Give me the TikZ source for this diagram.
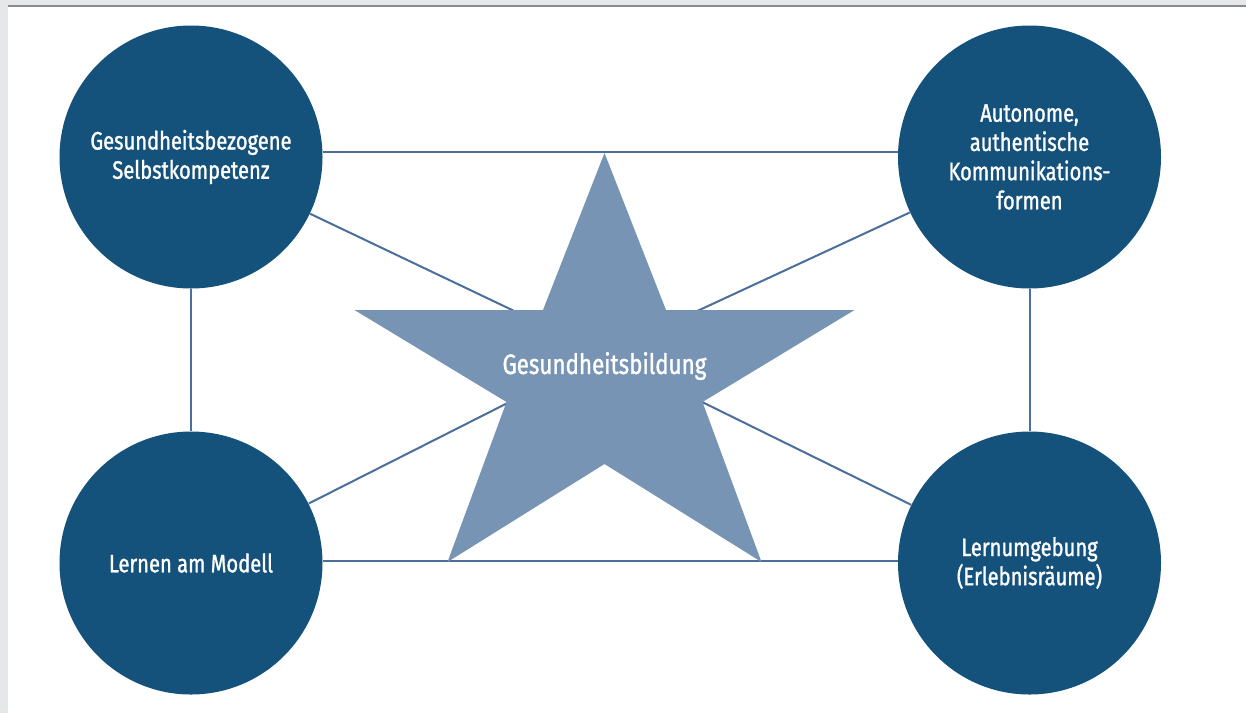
\documentclass[tikz,border=0pt]{standalone}
\usepackage{fontspec}
\setmainfont{Fira Sans}[FakeStretch=0.8, FakeBold=1.2]
\usetikzlibrary{
  calc,
  positioning,
}
\definecolor{topicblue}{HTML}{14527C}
\definecolor{starblue}{HTML}{7794B4}
\definecolor{linkblue}{HTML}{4A6F9B}
\definecolor{framegray}{HTML}{E6E7E9}
\definecolor{rulegray}{HTML}{8A8A8A}
\tikzset{
  topic/.style={circle, fill=topicblue, text=white, minimum size=131.5pt,
    inner sep=0pt, align=center, font=\fontsize{12.6}{14.6}\selectfont},
  link/.style={draw=linkblue, line width=1pt},
  startext/.style={text=white, inner sep=0pt, font=\fontsize{14}{16}\selectfont},
}

\begin{document}
\begin{tikzpicture}[x=0.5pt, y=-0.5pt]
      \useasboundingbox (0,0) rectangle (1246,713);
      % frame
      \fill[framegray] (0,0) rectangle (1246,713);
      \fill[white] (8,7) rectangle (1246,713);
      \draw[rulegray, line width=1pt] (8,6) -- (1246,6);

      % the four fields
      \node[topic] (tl) at (191,157) {Gesundheitsbezogene\\Selbstkompetenz};
      \node[topic] (tr) at (1029.5,157) {Autonome,\\authentische\\Kommunikations-\\formen};
      \node[topic] (bl) at (191,563) {Lernen am Modell};
      \node[topic] (br) at (1029.5,563) {Lernumgebung\\(Erlebnisräume)};
      \coordinate (hub) at (604.5,354);

      \draw[link] ([yshift=2.5pt]tl.east) -- ([yshift=2.5pt]tr.west);
      \draw[link] (tr) -- (br);
      \draw[link] ([yshift=1pt]br.west) -- ([yshift=1pt]bl.east);
      \draw[link] (bl) -- (tl);
      \foreach \c in {tl,tr,bl,br}
      {
        \draw[link] (\c) -- (hub);
      }

      % star
      \fill[starblue] (604.5,153) -- (666,310) -- (854.5,310) -- (702.5,402)
        -- (761.5,562) -- (604.5,464) -- (447.5,562) -- (506.5,402)
        -- (354.5,310) -- (543,310) -- cycle;
      \node[startext] (star) at (604.5,366) {Gesundheitsbildung};
    \end{tikzpicture}
\end{document}
